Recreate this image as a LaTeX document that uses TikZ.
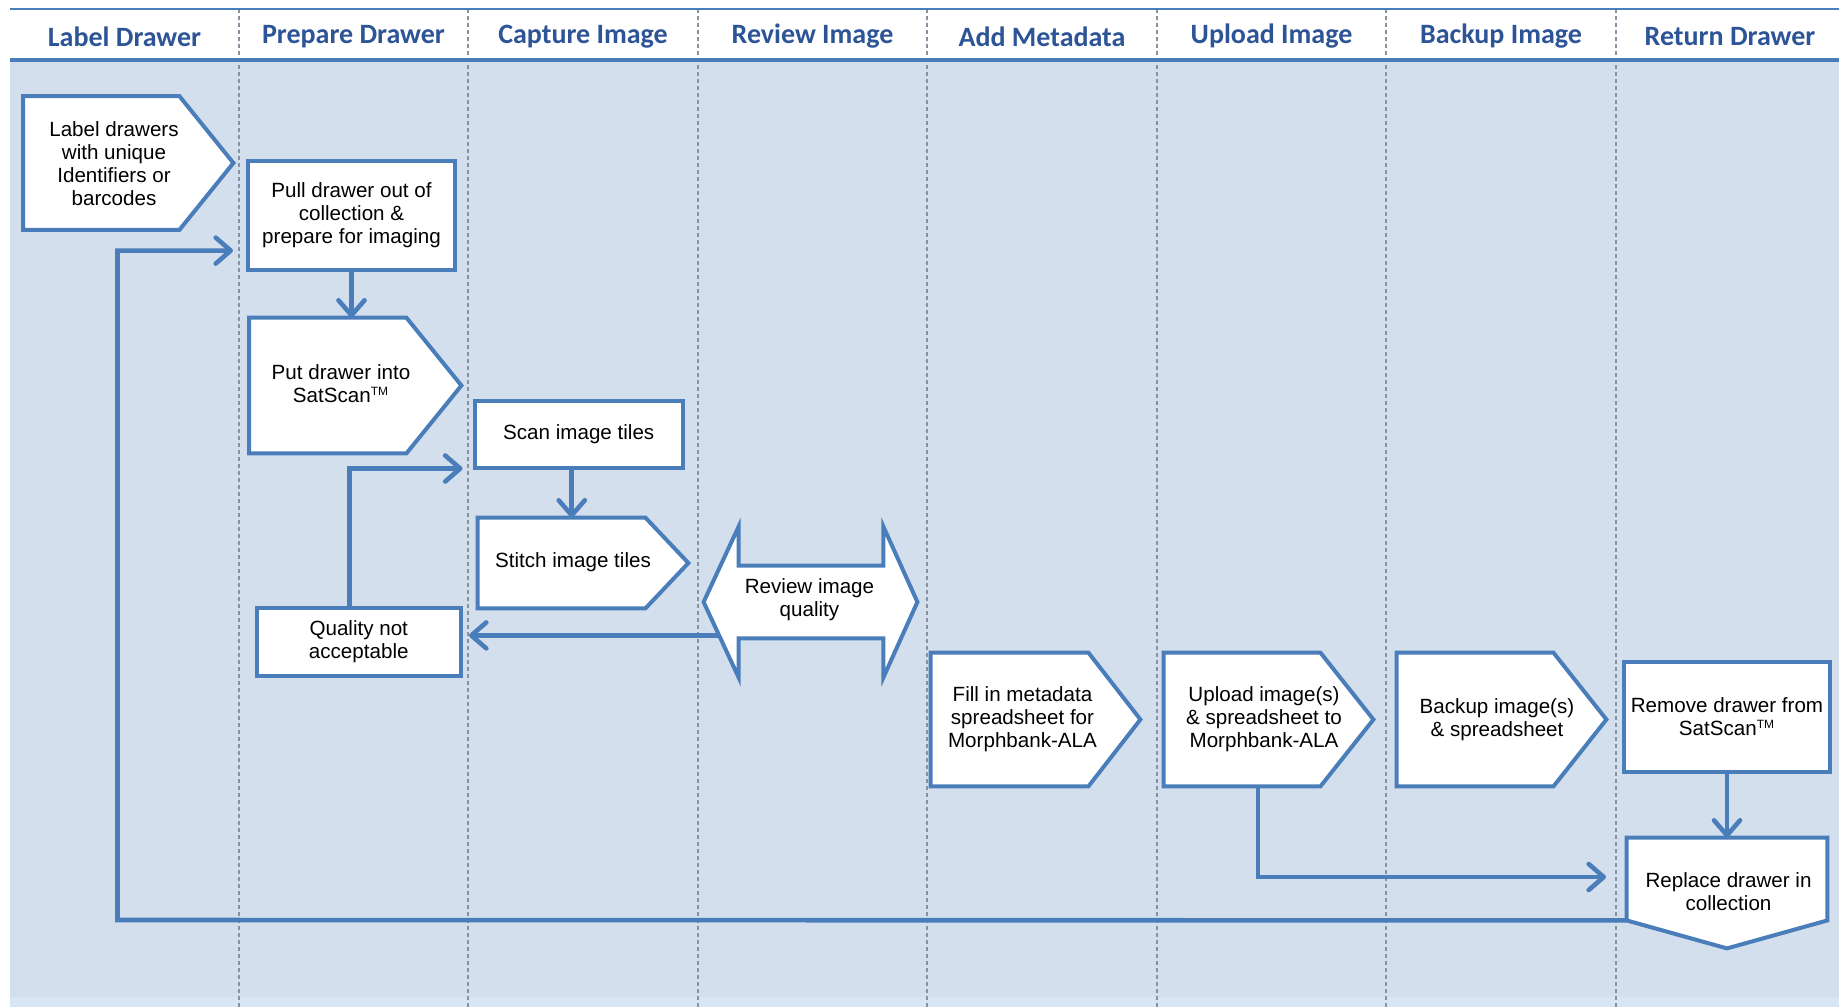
\documentclass[tikz,border=0pt]{standalone}
\usepackage{fontspec}
\setmainfont{Liberation Sans}
\newfontfamily\hdrfont{Carlito}
\usetikzlibrary{arrows.meta,calc}
\definecolor{lineblue}{RGB}{74,126,187}
\definecolor{bgblue}{RGB}{211,223,236}
\definecolor{bgstrip}{RGB}{216,230,244}
\definecolor{hdrblue}{RGB}{44,84,150}
\definecolor{divgray}{RGB}{135,145,160}
\newcommand\txtfont{\fontsize{10.3}{11.4}\selectfont}
\newcommand\tmark{\textsuperscript{\fontsize{6}{6}\selectfont TM}}
\begin{document}
\begin{tikzpicture}[x=0.5pt,y=-0.5pt,
  shp/.style={draw=lineblue, line width=2pt, fill=white, line join=miter},
  body/.style 2 args={draw=none, inner sep=0pt, minimum width={#1*0.5pt}, minimum height={#2*0.5pt}},
  rbox/.style 2 args={shp, inner sep=0pt, align=center, font=\txtfont, minimum width={#1*0.5pt}, minimum height={#2*0.5pt}},
  txt/.style={align=center, font=\txtfont, inner sep=0pt},
  hdr/.style={font=\hdrfont\bfseries\fontsize{14}{16}\selectfont, text=hdrblue, inner sep=0pt},
  conn/.style={draw=lineblue, line width=2.3pt, -{Straight Barb[length=7.5pt,width=13pt,round]}},
  divider/.style={draw=divgray, line width=0.6pt, dash pattern=on 2pt off 1.5pt}]
\useasboundingbox (0,0) rectangle (1845,1007);
% background and header
\fill[white] (0,0) rectangle (1845,1007);
\fill[white] (10,9) rectangle (1839,60);
\fill[bgblue] (10,61) rectangle (1839,997);
\fill[bgstrip] (10,997) rectangle (1839,1007);
\foreach \xx in {239,468,698,927,1157,1386,1616}
  \draw[divider] (\xx,9) -- (\xx,1007);
\draw[lineblue, line width=1pt] (10,9) -- (1839,9);
\draw[lineblue, line width=2pt] (10,60) -- (1839,60);
\node[hdr] (h1) at (124.5,36.5) {Label Drawer};
\node[hdr] (h2) at (353.5,36.5) {Prepare Drawer};
\node[hdr] (h3) at (583,36.5) {Capture Image};
\node[hdr] (h4) at (812.5,36.5) {Review Image};
\node[hdr] (h5) at (1042,36.5) {Add Metadata};
\node[hdr] (h6) at (1271.5,36.5) {Upload Image};
\node[hdr] (h7) at (1501,36.5) {Backup Image};
\node[hdr] (h8) at (1730,36.5) {Return Drawer};
% shape bodies
\node[body={155.5}{133}] (lab) at (101.25,163) {};
\node[body={156.5}{135}] (put) at (327.75,385.5) {};
\node[body={167}{90}] (stitch) at (561.5,563) {};
\node[body={157}{133}] (fill) at (1009.5,719.5) {};
\node[body={156}{133}] (upl) at (1242,719.5) {};
\node[body={156}{133}] (bak) at (1475,719.5) {};
\node[body={200}{82}] (rep) at (1727,879) {};
\node[body={144}{72}] (rev) at (811,602) {};
% pentagon outlines
\draw[shp] (lab.north west) -- (lab.north east) -- ($(lab.east)+(54,0)$) -- (lab.south east) -- (lab.south west) -- cycle;
\draw[shp] (put.north west) -- (put.north east) -- ($(put.east)+(55,0)$) -- (put.south east) -- (put.south west) -- cycle;
\draw[shp] (stitch.north west) -- (stitch.north east) -- ($(stitch.east)+(43,0)$) -- (stitch.south east) -- (stitch.south west) -- cycle;
\draw[shp] (fill.north west) -- (fill.north east) -- ($(fill.east)+(52,0)$) -- (fill.south east) -- (fill.south west) -- cycle;
\draw[shp] (upl.north west) -- (upl.north east) -- ($(upl.east)+(53,0)$) -- (upl.south east) -- (upl.south west) -- cycle;
\draw[shp] (bak.north west) -- (bak.north east) -- ($(bak.east)+(53,0)$) -- (bak.south east) -- (bak.south west) -- cycle;
\draw[shp] (rep.north west) -- (rep.north east) -- (rep.south east) -- ($(rep.south)+(0,28)$) -- (rep.south west) -- cycle;
% rectangles
\node[rbox={207}{108.5}] (pull) at (351.5,215.25) {Pull drawer out of\\collection \&\\prepare for imaging};
\node[rbox={207.5}{67}] (scan) at (578.75,434.5) {Scan image tiles};
\node[rbox={204.5}{67.5}] (qna) at (358.75,641.75) {Quality not\\acceptable};
\node[rbox={206}{110}] (rem) at (1727,717) {Remove drawer from\\SatScan\tmark};
% review connector drawn beneath the double arrow
\coordinate (revout) at ($(rev.south west)+(0,-3)$);
\draw[conn] (revout) -- ([xshift=3pt]revout -| qna.east);
\draw[shp] (rev.north west) -- (rev.north east) -- ($(rev.north east)+(0,-39)$) -- ($(rev.east)+(34,0)$) -- ($(rev.south east)+(0,39)$) -- (rev.south east) -- (rev.south west) -- ($(rev.south west)+(0,39)$) -- ($(rev.west)+(-35,0)$) -- ($(rev.north west)+(0,-39)$) -- cycle;
% texts
\node[txt] (labt) at (114,163.5) {Label drawers\\with unique\\Identifiers or\\barcodes};
\node[txt] (putt) at (341,383.5) {Put drawer into\\SatScan\tmark};
\node[txt] (stitcht) at (573,562.5) {Stitch image tiles};
\node[txt] (revt) at (809.5,600) {Review image\\quality};
\node[txt] (fillt) at (1022.5,719) {Fill in metadata\\spreadsheet for\\Morphbank-ALA};
\node[txt] (uplt) at (1264,719) {Upload image(s)\\\& spreadsheet to\\Morphbank-ALA};
\node[txt] (bakt) at (1497,720) {Backup image(s)\\\& spreadsheet};
\node[txt] (rept) at (1728.5,892) {Replace drawer in\\collection};
% connector end points
\coordinate (loopc) at (117.5,920);
\coordinate (pullin) at (233,250.6);
\coordinate (scanin) at (462.5,468.5);
\coordinate (repin) at (1606,877);
% connectors
\draw[conn] (pull.south) -- (pull.south |- put.north);
\draw[conn] (rep.south west) -- (loopc) |- (pullin);
\draw[conn] ($(qna.north)+(-9.5,0)$) |- (scanin);
\draw[conn] ($(scan.south)+(-7,0)$) -- ($(scan.south |- stitch.north)+(-7,0)$);
\draw[conn] (rem.south) -- (rem.south |- rep.north);
\draw[conn] ($(upl.south)+(16,0)$) |- (repin);
\end{tikzpicture}
\end{document}
